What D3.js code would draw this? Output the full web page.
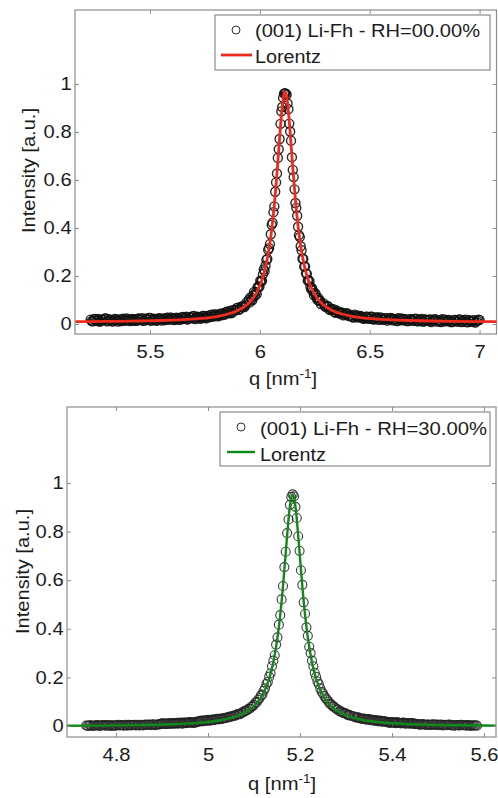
<!DOCTYPE html>
<html><head><meta charset="utf-8">
<script src="https://cdn.jsdelivr.net/npm/d3@7"></script>
<style>
body{margin:0;background:#fff}
svg{display:block}
text{font-family:"Liberation Sans",Arial,Helvetica,sans-serif;fill:#1c1c1c}
</style>
</head><body><svg id="c" width="498" height="798"></svg>
<script>
// ---------------- DATA ----------------
const xTicksTop = [5.5, 6, 6.5, 7];
const xTicksBottom = [4.8, 5, 5.2, 5.4, 5.6];
const yTicks = [0, 0.2, 0.4, 0.6, 0.8, 1];
const legendTop = ["(001) Li-Fh - RH=00.00%", "Lorentz"];
const legendBottom = ["(001) Li-Fh - RH=30.00%", "Lorentz"];

// RH = 00.00 % : measured points [q, intensity]
const rh00Left = [[5.23,.018],[5.24,.011],[5.25,.021],[5.26,.013],[5.27,.010],[5.28,.019],[5.29,.016],[5.30,.023],[5.31,.013],[5.32,.018],[5.33,.010],[5.34,.021],[5.35,.015],[5.36,.019],[5.37,.012],[5.38,.022],[5.39,.015],[5.40,.018],[5.41,.012],[5.42,.021],[5.43,.020],[5.44,.013],[5.45,.023],[5.46,.016],[5.47,.013],[5.48,.022],[5.49,.018],[5.50,.025],[5.51,.016],[5.52,.021],[5.53,.013],[5.54,.024],[5.55,.019],[5.56,.023],[5.57,.016],[5.58,.026],[5.59,.019],[5.60,.022],[5.61,.016],[5.62,.026],[5.63,.025],[5.64,.018],[5.65,.029],[5.66,.022],[5.67,.019],[5.68,.029],[5.69,.025],[5.70,.033],[5.71,.023],[5.72,.029],[5.73,.022],[5.74,.034],[5.75,.029],[5.76,.034],[5.77,.028],[5.78,.039],[5.79,.032],[5.80,.037],[5.81,.032],[5.82,.043],[5.83,.044],[5.84,.039],[5.85,.051],[5.86,.046],[5.87,.045],[5.88,.058],[5.89,.057],[5.90,.068],[5.91,.063],[5.92,.073],[5.93,.071],[5.94,.090]];
const rh00LeftB = [[5.235,.012],[5.245,.020],[5.255,.014],[5.265,.021],[5.275,.011],[5.285,.017],[5.295,.023],[5.305,.011],[5.315,.019],[5.325,.016],[5.335,.014],[5.345,.020],[5.355,.010],[5.365,.017],[5.375,.021],[5.385,.013],[5.395,.023],[5.405,.016],[5.415,.019],[5.425,.013],[5.435,.014],[5.445,.022],[5.455,.017],[5.465,.024],[5.475,.014],[5.485,.020],[5.495,.025],[5.505,.013],[5.515,.022],[5.525,.019],[5.535,.017],[5.545,.023],[5.555,.014],[5.565,.021],[5.575,.025],[5.585,.018],[5.595,.027],[5.605,.020],[5.615,.024],[5.625,.018],[5.635,.019],[5.645,.028],[5.655,.022],[5.665,.030],[5.675,.020],[5.685,.027],[5.695,.032],[5.705,.021],[5.715,.030],[5.725,.028],[5.735,.026],[5.745,.033],[5.755,.024],[5.765,.032],[5.775,.037],[5.785,.031],[5.795,.041],[5.805,.035],[5.815,.040],[5.825,.036],[5.835,.039],[5.845,.049],[5.855,.045],[5.865,.055],[5.875,.048],[5.885,.057],[5.895,.066],[5.905,.059],[5.915,.072],[5.925,.074],[5.935,.079]];
const rh00Peak = [[5.950,.101],[5.954,.090],[5.958,.112],[5.962,.102],[5.966,.099],[5.970,.119],[5.974,.134],[5.978,.117],[5.982,.133],[5.986,.125],[5.990,.153],[5.994,.156],[5.998,.155],[6.002,.180],[6.006,.177],[6.010,.180],[6.014,.207],[6.018,.227],[6.022,.220],[6.026,.243],[6.030,.267],[6.034,.271],[6.038,.309],[6.042,.316],[6.046,.333],[6.050,.374],[6.054,.413],[6.058,.422],[6.062,.466],[6.066,.490],[6.070,.551],[6.074,.590],[6.078,.627],[6.082,.692],[6.086,.728],[6.090,.771],[6.094,.834],[6.098,.886],[6.102,.904],[6.106,.943],[6.110,.960],[6.114,.962],[6.118,.960],[6.122,.955],[6.126,.919],[6.130,.895],[6.134,.835],[6.138,.802],[6.142,.764],[6.146,.695],[6.150,.642],[6.154,.612],[6.158,.561],[6.162,.504],[6.166,.484],[6.170,.451],[6.174,.405],[6.178,.370],[6.182,.362],[6.186,.324],[6.190,.307],[6.194,.272],[6.198,.271],[6.202,.239],[6.206,.240],[6.210,.211],[6.214,.209],[6.218,.181],[6.222,.182],[6.226,.178],[6.230,.155],[6.234,.144],[6.238,.149],[6.242,.138],[6.246,.121],[6.250,.129],[6.254,.125],[6.258,.109],[6.262,.101],[6.266,.109],[6.270,.097],[6.274,.097],[6.278,.083]];
const rh00Right = [[6.29,.086],[6.30,.071],[6.31,.074],[6.32,.058],[6.33,.059],[6.34,.050],[6.35,.056],[6.36,.045],[6.37,.048],[6.38,.036],[6.39,.042],[6.40,.043],[6.41,.035],[6.42,.030],[6.43,.039],[6.44,.028],[6.45,.031],[6.46,.033],[6.47,.023],[6.48,.029],[6.49,.030],[6.50,.022],[6.51,.030],[6.52,.018],[6.53,.024],[6.54,.018],[6.55,.027],[6.56,.019],[6.57,.024],[6.58,.014],[6.59,.022],[6.60,.024],[6.61,.018],[6.62,.014],[6.63,.024],[6.64,.015],[6.65,.018],[6.66,.021],[6.67,.012],[6.68,.019],[6.69,.020],[6.70,.013],[6.71,.022],[6.72,.011],[6.73,.016],[6.74,.011],[6.75,.020],[6.76,.013],[6.77,.018],[6.78,.008],[6.79,.016],[6.80,.019],[6.81,.013],[6.82,.010],[6.83,.020],[6.84,.011],[6.85,.014],[6.86,.017],[6.87,.008],[6.88,.015],[6.89,.017],[6.90,.010],[6.91,.019],[6.92,.008],[6.93,.014],[6.94,.009],[6.95,.017],[6.96,.010],[6.97,.015],[6.98,.006],[6.99,.014],[7.00,.017]];
const rh00RightB = [[6.295,.076],[6.305,.076],[6.315,.062],[6.325,.064],[6.335,.062],[6.345,.047],[6.355,.050],[6.365,.043],[6.375,.047],[6.385,.040],[6.395,.045],[6.405,.033],[6.415,.037],[6.425,.027],[6.435,.035],[6.445,.036],[6.455,.027],[6.465,.029],[6.475,.022],[6.485,.030],[6.495,.023],[6.505,.030],[6.515,.020],[6.525,.026],[6.535,.028],[6.545,.017],[6.555,.022],[6.565,.018],[6.575,.024],[6.585,.019],[6.595,.025],[6.605,.015],[6.615,.021],[6.625,.012],[6.635,.021],[6.645,.023],[6.655,.015],[6.665,.018],[6.675,.012],[6.685,.020],[6.695,.014],[6.705,.021],[6.715,.012],[6.725,.018],[6.735,.021],[6.745,.010],[6.755,.016],[6.765,.012],[6.775,.019],[6.785,.013],[6.795,.020],[6.805,.010],[6.815,.016],[6.825,.008],[6.835,.017],[6.845,.018],[6.855,.011],[6.865,.014],[6.875,.008],[6.885,.017],[6.895,.011],[6.905,.018],[6.915,.009],[6.925,.016],[6.935,.018],[6.945,.007],[6.955,.013],[6.965,.009],[6.975,.016],[6.985,.011],[6.995,.018]];
// RH = 00.00 % : Lorentz fit curve [q, intensity]
const rh00Fit = [[5.16,.0096],[5.23,.0101],[5.35,.0111],[5.45,.0124],[5.55,.0145],[5.65,.0180],[5.72,.0221],[5.78,.0279],[5.82,.0338],[5.86,.0426],[5.90,.0563],[5.93,.0724],[5.95,.0877],[5.97,.1090],[5.99,.1394],[6.01,.1845],[6.03,.2538],[6.046,.3375],[6.058,.4245],[6.07,.5374],[6.082,.6757],[6.094,.8231],[6.102,.9062],[6.11,.9575],[6.115,.967],[6.122,.9486],[6.13,.8877],[6.138,.7993],[6.15,.6513],[6.162,.5167],[6.174,.4083],[6.186,.3253],[6.198,.2626],[6.214,.2021],[6.23,.1596],[6.25,.1228],[6.278,.0896],[6.30,.0724],[6.33,.0563],[6.37,.0426],[6.41,.0338],[6.45,.0279],[6.51,.0221],[6.58,.0180],[6.68,.0145],[6.78,.0124],[6.88,.0111],[7.00,.0101],[7.08,.0096]];

// RH = 30.00 % : measured points [q, intensity]
const rh30Left = [[4.735,.002],[4.740,.000],[4.745,.003],[4.750,.001],[4.755,.001],[4.760,.004],[4.765,.000],[4.770,.003],[4.775,.002],[4.780,.004],[4.785,.001],[4.790,.000],[4.795,.003],[4.800,.001],[4.805,.005],[4.810,.003],[4.815,.002],[4.820,.005],[4.825,.001],[4.830,.004],[4.835,.003],[4.840,.005],[4.845,.003],[4.850,.002],[4.855,.005],[4.860,.003],[4.865,.006],[4.870,.005],[4.875,.004],[4.880,.007],[4.885,.003],[4.890,.006],[4.895,.006],[4.900,.011],[4.905,.008],[4.910,.008],[4.915,.011],[4.920,.009],[4.925,.012],[4.930,.011],[4.935,.010],[4.940,.014],[4.945,.010],[4.950,.014],[4.955,.013],[4.960,.016],[4.965,.013],[4.970,.013],[4.975,.017],[4.980,.018],[4.985,.022],[4.990,.021],[4.995,.021],[5.000,.025],[5.005,.022],[5.010,.026],[5.015,.026],[5.020,.029],[5.025,.028],[5.030,.029],[5.035,.033],[5.040,.033],[5.045,.038],[5.050,.039],[5.055,.040]];
const rh30LeftB = [[4.7375,.001],[4.7425,.003],[4.7475,.000],[4.7525,.002],[4.7575,.003],[4.7625,.001],[4.7675,.002],[4.7725,.004],[4.7775,.001],[4.7825,.002],[4.7875,.004],[4.7925,.002],[4.7975,.001],[4.8025,.004],[4.8075,.002],[4.8125,.004],[4.8175,.001],[4.8225,.003],[4.8275,.005],[4.8325,.002],[4.8375,.004],[4.8425,.002],[4.8475,.005],[4.8525,.003],[4.8575,.002],[4.8625,.005],[4.8675,.004],[4.8725,.006],[4.8775,.003],[4.8825,.006],[4.8875,.004],[4.8925,.007],[4.8975,.009],[4.9025,.010],[4.9075,.011],[4.9125,.009],[4.9175,.012],[4.9225,.011],[4.9275,.010],[4.9325,.013],[4.9375,.012],[4.9425,.011],[4.9475,.014],[4.9525,.012],[4.9575,.015],[4.9625,.014],[4.9675,.016],[4.9725,.014],[4.9775,.018],[4.9825,.020],[4.9875,.019],[4.9925,.023],[4.9975,.022],[5.0025,.023],[5.0075,.025],[5.0125,.024],[5.0175,.028],[5.0225,.027],[5.0275,.031],[5.0325,.030],[5.0375,.034],[5.0425,.035],[5.0475,.036],[5.0525,.041]];
const rh30Peak = [[5.058,.044],[5.061,.044],[5.064,.049],[5.067,.049],[5.070,.049],[5.073,.055],[5.076,.055],[5.079,.061],[5.082,.062],[5.085,.065],[5.088,.071],[5.091,.071],[5.094,.079],[5.097,.082],[5.100,.087],[5.103,.096],[5.106,.098],[5.109,.108],[5.112,.114],[5.115,.126],[5.118,.129],[5.121,.145],[5.124,.155],[5.127,.173],[5.130,.181],[5.133,.203],[5.136,.217],[5.139,.246],[5.142,.269],[5.145,.291],[5.148,.335],[5.151,.365],[5.154,.417],[5.157,.456],[5.160,.521],[5.163,.576],[5.166,.654],[5.169,.717],[5.172,.794],[5.175,.850],[5.178,.910],[5.181,.943],[5.184,.953],[5.187,.945],[5.190,.902],[5.193,.856],[5.196,.781],[5.199,.721],[5.202,.641],[5.205,.581],[5.208,.509],[5.211,.462],[5.214,.406],[5.217,.371],[5.220,.326],[5.223,.300],[5.226,.269],[5.229,.246],[5.232,.219],[5.235,.202],[5.238,.183],[5.241,.172],[5.244,.155],[5.247,.141],[5.250,.134],[5.253,.123],[5.256,.114],[5.259,.109],[5.262,.100],[5.265,.091],[5.268,.089],[5.271,.081],[5.274,.080],[5.277,.073],[5.280,.068],[5.283,.068],[5.286,.060],[5.289,.060],[5.292,.056],[5.295,.053],[5.298,.053],[5.301,.049],[5.304,.045],[5.307,.046],[5.310,.042]];
const rh30Right = [[5.315,.040],[5.320,.036],[5.325,.036],[5.330,.032],[5.335,.029],[5.340,.030],[5.345,.026],[5.350,.028],[5.355,.025],[5.360,.022],[5.365,.024],[5.370,.019],[5.375,.021],[5.380,.019],[5.385,.019],[5.390,.015],[5.395,.013],[5.400,.016],[5.405,.013],[5.410,.016],[5.415,.013],[5.420,.011],[5.425,.014],[5.430,.010],[5.435,.012],[5.440,.011],[5.445,.012],[5.450,.009],[5.455,.008],[5.460,.005],[5.465,.008],[5.470,.006],[5.475,.004],[5.480,.006],[5.485,.004],[5.490,.007],[5.495,.005],[5.500,.003],[5.505,.006],[5.510,.002],[5.515,.005],[5.520,.004],[5.525,.006],[5.530,.002],[5.535,.001],[5.540,.004],[5.545,.002],[5.550,.005],[5.555,.003],[5.560,.002],[5.565,.004],[5.570,.000],[5.575,.003],[5.580,.002],[5.585,.001]];
const rh30RightB = [[5.3175,.039],[5.3225,.034],[5.3275,.035],[5.3325,.030],[5.3375,.031],[5.3425,.027],[5.3475,.028],[5.3525,.024],[5.3575,.025],[5.3625,.022],[5.3675,.021],[5.3725,.022],[5.3775,.018],[5.3825,.019],[5.3875,.017],[5.3925,.016],[5.3975,.014],[5.4025,.015],[5.4075,.012],[5.4125,.014],[5.4175,.012],[5.4225,.013],[5.4275,.011],[5.4325,.012],[5.4375,.010],[5.4425,.011],[5.4475,.009],[5.4525,.008],[5.4575,.007],[5.4625,.005],[5.4675,.007],[5.4725,.005],[5.4775,.006],[5.4825,.004],[5.4875,.006],[5.4925,.004],[5.4975,.006],[5.5025,.004],[5.5075,.005],[5.5125,.003],[5.5175,.003],[5.5225,.005],[5.5275,.003],[5.5325,.004],[5.5375,.002],[5.5425,.004],[5.5475,.002],[5.5525,.003],[5.5575,.004],[5.5625,.001],[5.5675,.003],[5.5725,.002],[5.5775,.001],[5.5825,.003]];
// RH = 30.00 % : Lorentz fit curve [q, intensity]
const rh30Fit = [[4.693,.0007],[4.75,.0014],[4.85,.0037],[4.92,.0072],[4.97,.0119],[5.0,.0167],[5.03,.0245],[5.055,.0353],[5.07,.0452],[5.085,.0596],[5.1,.0815],[5.112,.1082],[5.124,.1490],[5.133,.1950],[5.142,.2626],[5.151,.3638],[5.157,.4575],[5.163,.5760],[5.169,.7145],[5.175,.8508],[5.178,.9047],[5.181,.9405],[5.184,.9530],[5.187,.9405],[5.190,.9047],[5.193,.8508],[5.199,.7145],[5.205,.5760],[5.211,.4575],[5.217,.3638],[5.226,.2626],[5.235,.1950],[5.244,.1490],[5.256,.1082],[5.268,.0815],[5.283,.0596],[5.298,.0452],[5.315,.0342],[5.34,.0238],[5.37,.0163],[5.42,.0095],[5.48,.0053],[5.55,.0028],[5.626,.0013]];

// ---------------- DRAWING ----------------
const svg = d3.select("#c");
const SX = 1.12;           // horizontal stretch of the original text
const FS = 18;

const panels = [
  { pts: rh00Left.concat(rh00LeftB, rh00Peak, rh00Right, rh00RightB), fit: rh00Fit, color: "#ee2b1c", fitW: 2.8,
    mk: {c: "#111", w: 1.4, o: 0.9},
    xDomain: [5.159, 7.077], yDomain: [-0.0417, 1.3083], xTicks: xTicksTop, legend: legendTop,
    box: {l: 75, r: 496.5, t: 10, b: 334},
    leg: {x: 215, y: 15, w: 275, h: 55, mx: 236, my: 30, lx1: 221, lx2: 252, ly: 55, tx: 255, t1: 37, t2: 63, tl1: 225},
    ylab: {x: 35, y: 170.5}, xlab: {x: 283, y: 385} },
  { pts: rh30Left.concat(rh30LeftB, rh30Peak, rh30Right, rh30RightB), fit: rh30Fit, color: "#11891a", fitW: 2.4,
    mk: {c: "#222", w: 1.15, o: 0.85},
    xDomain: [4.6935, 5.626], yDomain: [-0.0453, 1.3128], xTicks: xTicksBottom, legend: legendBottom,
    box: {l: 67, r: 496, t: 407, b: 737},
    leg: {x: 220, y: 412, w: 270, h: 54, mx: 241, my: 427, lx1: 227, lx2: 255, ly: 452, tx: 260, t1: 435, t2: 461, tl1: 227},
    ylab: {x: 29, y: 571.5}, xlab: {x: 282, y: 790} }
];

panels.forEach(p => {
  const b = p.box;
  const x = d3.scaleLinear().domain(p.xDomain).range([b.l, b.r]);
  const y = d3.scaleLinear().domain(p.yDomain).range([b.b, b.t]);
  const g = svg.append("g");

  // scatter points
  g.append("g").selectAll("circle").data(p.pts).join("circle")
    .attr("cx", d => x(d[0])).attr("cy", d => y(d[1])).attr("r", 4.5)
    .attr("fill", "none").attr("stroke", p.mk.c).attr("stroke-width", p.mk.w).attr("stroke-opacity", p.mk.o);

  // fit line
  g.append("path").datum(p.fit)
    .attr("d", d3.line().x(d => x(d[0])).y(d => y(d[1])).curve(d3.curveMonotoneX))
    .attr("fill", "none").attr("stroke", p.color).attr("stroke-width", p.fitW).attr("stroke-linejoin", "round");

  // axes (inward ticks on all four sides)
  const styleAxis = a => {
    a.select(".domain").remove();
    a.selectAll(".tick line").attr("stroke", "#8c8c8c");
    a.selectAll(".tick text").attr("font-size", FS).attr("fill", "#1c1c1c")
      .attr("font-family", '"Liberation Sans",Arial,Helvetica,sans-serif')
      .attr("transform", `scale(${SX},1)`);
  };
  g.append("g").attr("transform", `translate(0,${b.b})`)
    .call(d3.axisBottom(x).tickValues(p.xTicks).tickFormat(d3.format("")).tickSize(-4).tickPadding(11)).call(styleAxis);
  g.append("g").attr("transform", `translate(0,${b.t})`)
    .call(d3.axisTop(x).tickValues(p.xTicks).tickFormat("").tickSize(-4)).call(styleAxis);
  g.append("g").attr("transform", `translate(${b.l},0)`)
    .call(d3.axisLeft(y).tickValues(yTicks).tickFormat(d3.format("")).tickSize(-4).tickPadding(3)).call(styleAxis);
  g.append("g").attr("transform", `translate(${b.r},0)`)
    .call(d3.axisRight(y).tickValues(yTicks).tickFormat("").tickSize(-4)).call(styleAxis);

  g.append("rect").attr("x", b.l).attr("y", b.t).attr("width", b.r - b.l).attr("height", b.b - b.t)
    .attr("fill", "none").attr("stroke", "#8c8c8c").attr("stroke-width", 1.2);

  // legend
  const L = p.leg;
  g.append("rect").attr("x", L.x).attr("y", L.y).attr("width", L.w).attr("height", L.h)
    .attr("fill", "#fff").attr("stroke", "#8c8c8c").attr("stroke-width", 1.2);
  g.append("circle").attr("cx", L.mx).attr("cy", L.my).attr("r", 4)
    .attr("fill", "none").attr("stroke", "#333").attr("stroke-width", 1);
  g.append("line").attr("x1", L.lx1).attr("x2", L.lx2).attr("y1", L.ly).attr("y2", L.ly)
    .attr("stroke", p.color).attr("stroke-width", p.fitW);
  g.append("text").attr("x", L.tx).attr("y", L.t1).attr("font-size", FS)
    .attr("textLength", L.tl1).attr("lengthAdjust", "spacingAndGlyphs").text(p.legend[0]);
  g.append("text").attr("x", L.tx).attr("y", L.t2).attr("font-size", FS)
    .attr("textLength", 66).attr("lengthAdjust", "spacingAndGlyphs").text(p.legend[1]);

  // axis labels
  g.append("text").attr("transform", `translate(${p.ylab.x},${p.ylab.y}) rotate(-90)`)
    .attr("text-anchor", "middle").attr("font-size", FS)
    .attr("textLength", 125).attr("lengthAdjust", "spacingAndGlyphs").text("Intensity [a.u.]");
  const xl = g.append("text").attr("transform", `translate(${p.xlab.x},${p.xlab.y}) scale(${SX},1)`)
    .attr("text-anchor", "middle").attr("font-size", FS);
  xl.append("tspan").text("q [nm");
  xl.append("tspan").attr("font-size", 12).attr("dy", -7).text("-1");
  xl.append("tspan").attr("dy", 7).text("]");
});
</script>
</body></html>
